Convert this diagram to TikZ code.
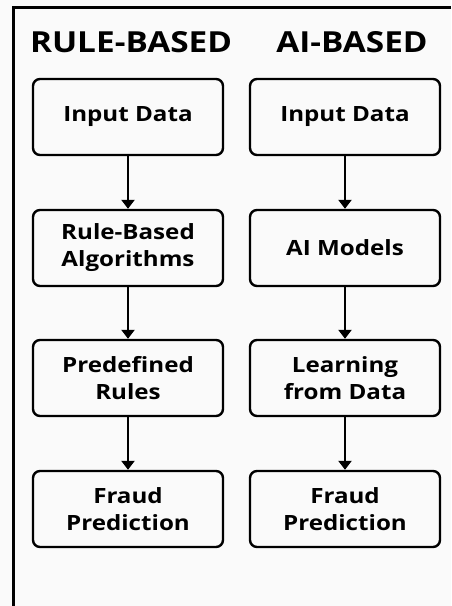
\documentclass[tikz,border=0pt]{standalone}
\usepackage{fontspec}
\setmainfont[FakeStretch=1.15]{Open Sans}
\usetikzlibrary{arrows.meta}
\begin{document}
\begin{tikzpicture}[x=1pt,y=-1pt,
  stepbox/.style={draw=black,line width=2.4pt,rounded corners=7pt,minimum width=190pt,minimum height=76pt,align=center,font=\fontsize{21}{27}\selectfont\bfseries,inner sep=0pt},
  heading/.style={font=\fontsize{29}{34}\selectfont\bfseries,inner sep=0pt},
  conn/.style={line width=2.4pt,-{Triangle[length=9pt,width=13pt]}}]
\useasboundingbox (0,0) rectangle (451,606);
\fill[white!98!black] (0,0) rectangle (451,606);
\draw[line width=3pt] (451,7) -- (13,7) -- (13,606);
\node[heading] (h1) at (131,42) {RULE-BASED};
\node[heading] (h2) at (352,42) {AI-BASED};
\node[stepbox] (a1) at (128,117) {Input Data};
\node[stepbox] (a2) at (128,248) {Rule-Based\\Algorithms};
\node[stepbox] (a3) at (128,378) {Predefined\\Rules};
\node[stepbox] (a4) at (128,509) {Fraud\\Prediction};
\node[stepbox] (b1) at (345,117) {Input Data};
\node[stepbox] (b2) at (345,248) {AI Models};
\node[stepbox] (b3) at (345,378) {Learning\\from Data};
\node[stepbox] (b4) at (345,509) {Fraud\\Prediction};
\foreach \c in {a,b}{
  \draw[conn] (\c1) -- (\c2);
  \draw[conn] (\c2) -- (\c3);
  \draw[conn] (\c3) -- (\c4);
}
\end{tikzpicture}
\end{document}
